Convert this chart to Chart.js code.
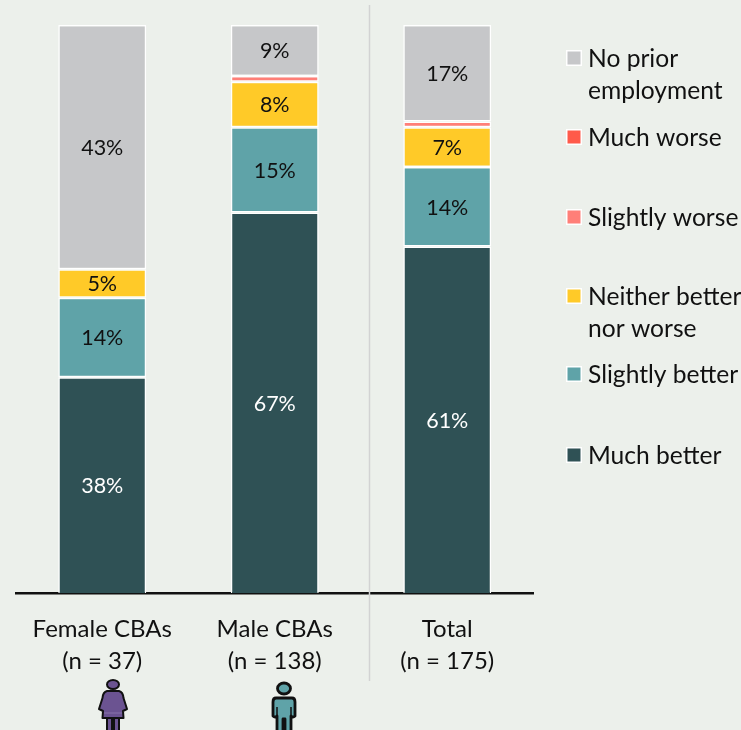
<!DOCTYPE html>
<html>
<head>
<meta charset="utf-8">
<style>
  html, body { margin: 0; padding: 0; background: #ecf0eb; }
  #wrap { width: 741px; height: 730px; position: relative; }
</style>
<script src="https://cdn.jsdelivr.net/npm/chart.js@4/dist/chart.umd.min.js"></script>
</head>
<body>
<div id="wrap"><canvas id="chart" width="741" height="730"></canvas></div>
<script>
const categories = [["Female CBAs", "(n = 37)"], ["Male CBAs", "(n = 138)"], ["Total", "(n = 175)"]];

const much_better = [38, 67, 61];
const slightly_better = [14, 15, 14];
const neither = [5, 8, 7];
const slightly_worse = [null, 1, 1];
const much_worse = [null, null, null];
const no_prior = [43, 9, 17];

const FONT = 'Lato, sans-serif';
const TICK_COLOR = "#111";

function makeSet(label, data, color, textColor, skip) {
  return {
    label: label,
    data: data,
    backgroundColor: color,
    borderColor: "#fff",
    borderWidth: 1.5,
    borderSkipped: skip || false,
    barPercentage: 0.51,
    categoryPercentage: 1,
    textColor: textColor
  };
}

// bottom of the stack first
const datasets = [
  makeSet("Much better", much_better, "#2f5155", "#fff", "bottom"),
  makeSet("Slightly better", slightly_better, "#5fa3a8", "#111"),
  makeSet("Neither better\nnor worse", neither, "#ffca28", "#111"),
  makeSet("Slightly worse", slightly_worse, "#ff7f78", "#111"),
  makeSet("Much worse", much_worse, "#ff5a4a", "#111"),
  makeSet("No prior\nemployment", no_prior, "#c6c7c9", "#111")
];

// percent labels, the thin 1% slices stay unlabelled
const barLabels = {
  id: "barLabels",
  afterDatasetsDraw(chart) {
    const ctx = chart.ctx;
    ctx.save();
    ctx.font = "21.5px " + FONT;
    ctx.textAlign = "center";
    ctx.textBaseline = "middle";
    chart.data.datasets.forEach((ds, i) => {
      chart.getDatasetMeta(i).data.forEach((bar, j) => {
        const v = ds.data[j];
        if (v == null || v < 2) return;
        ctx.fillStyle = ds.textColor;
        ctx.fillText(v + "%", bar.x, (bar.y + bar.base) / 2 + 1);
      });
    });
    ctx.restore();
  }
};

// divider between the two groups and Total
const divider = {
  id: "divider",
  afterDraw(chart) {
    const x = chart.scales.x;
    const px = (x.getPixelForTick(1) + x.getPixelForTick(2)) / 2 + 8.5;
    const ctx = chart.ctx;
    ctx.save();
    ctx.strokeStyle = "#d2d3d3";
    ctx.lineWidth = 1.5;
    ctx.beginPath();
    ctx.moveTo(px, 5);
    ctx.lineTo(px, 681);
    ctx.stroke();
    ctx.restore();
  }
};

// legend is not evenly spaced in the original so place it by hand
const sideLegend = {
  id: "sideLegend",
  afterDraw(chart) {
    const rows = [[5, 59], [4, 138], [3, 218], [2, 297], [1, 375], [0, 456]];
    const ctx = chart.ctx;
    ctx.save();
    ctx.font = "24.6px " + FONT;
    ctx.textBaseline = "middle";
    rows.forEach(r => {
      const ds = chart.data.datasets[r[0]];
      ctx.fillStyle = "#fff";
      ctx.fillRect(566, r[1] - 9, 16, 16);
      ctx.fillStyle = ds.backgroundColor;
      ctx.fillRect(567.5, r[1] - 7.5, 13, 13);
      ctx.fillStyle = TICK_COLOR;
      ds.label.split("\n").forEach((line, k) => {
        ctx.fillText(line, 588, r[1] + k * 32);
      });
    });
    ctx.restore();
  }
};

function drawFemale(ctx, cx, top) {
  ctx.save();
  ctx.translate(cx, top);
  ctx.fillStyle = "#6b5391";
  ctx.strokeStyle = "#111";
  ctx.lineWidth = 2;
  ctx.lineJoin = "round";
  ctx.beginPath();
  ctx.ellipse(0, 4.5, 6, 4.5, 0, 0, Math.PI * 2);
  ctx.fill();
  ctx.stroke();
  ctx.beginPath();
  ctx.rect(-6, 37, 5, 14);
  ctx.rect(1, 37, 5, 14);
  ctx.fill();
  ctx.stroke();
  ctx.beginPath();
  ctx.moveTo(-6, 11);
  ctx.lineTo(6, 11);
  ctx.quadraticCurveTo(10, 12, 10.5, 18);
  ctx.lineTo(14, 29);
  ctx.lineTo(10, 31);
  ctx.lineTo(10.5, 38);
  ctx.lineTo(-10.5, 38);
  ctx.lineTo(-10, 31);
  ctx.lineTo(-14, 29);
  ctx.lineTo(-10.5, 18);
  ctx.quadraticCurveTo(-10, 12, -6, 11);
  ctx.closePath();
  ctx.fill();
  ctx.stroke();
  ctx.strokeStyle = "#8a75ab";
  ctx.lineWidth = 1;
  ctx.beginPath();
  ctx.moveTo(-9, 33);
  ctx.lineTo(9, 33);
  ctx.stroke();
  ctx.restore();
}

function drawMale(ctx, cx, top) {
  ctx.save();
  ctx.translate(cx, top);
  ctx.fillStyle = "#5fa3a8";
  ctx.strokeStyle = "#111";
  ctx.lineWidth = 2.8;
  ctx.lineJoin = "round";
  ctx.beginPath();
  ctx.ellipse(0, 6.5, 6.5, 5.5, 0, 0, Math.PI * 2);
  ctx.fill();
  ctx.stroke();
  ctx.beginPath();
  ctx.moveTo(-8, 16);
  ctx.lineTo(8, 16);
  ctx.quadraticCurveTo(11, 16, 11, 20);
  ctx.lineTo(11, 34);
  ctx.quadraticCurveTo(9, 36, 7, 34);
  ctx.lineTo(7, 52);
  ctx.lineTo(1, 52);
  ctx.lineTo(1, 37);
  ctx.lineTo(-1, 37);
  ctx.lineTo(-1, 52);
  ctx.lineTo(-7, 52);
  ctx.lineTo(-7, 34);
  ctx.quadraticCurveTo(-9, 36, -11, 34);
  ctx.lineTo(-11, 20);
  ctx.quadraticCurveTo(-11, 16, -8, 16);
  ctx.closePath();
  ctx.fill();
  ctx.stroke();
  ctx.lineWidth = 1.5;
  ctx.beginPath();
  ctx.moveTo(-7, 25);
  ctx.lineTo(-7, 34);
  ctx.moveTo(7, 25);
  ctx.lineTo(7, 34);
  ctx.stroke();
  ctx.restore();
}

const figures = {
  id: "figures",
  afterDraw(chart) {
    drawFemale(chart.ctx, 113, 680);
    drawMale(chart.ctx, 284, 682);
  }
};

new Chart(document.getElementById("chart").getContext("2d"), {
  type: "bar",
  data: { labels: categories, datasets: datasets },
  options: {
    responsive: false,
    animation: false,
    layout: { padding: { left: 16, right: 207.5, top: 25, bottom: 33 } },
    plugins: { legend: { display: false }, tooltip: { enabled: false } },
    scales: {
      x: {
        stacked: true,
        grid: { display: false, drawTicks: false },
        border: { color: "#111", width: 2.5 },
        ticks: { color: TICK_COLOR, font: { family: FONT, size: 24, lineHeight: 1.333 }, padding: 20, maxRotation: 0, autoSkip: false }
      },
      y: {
        stacked: true,
        display: false,
        min: 0,
        max: 100
      }
    }
  },
  plugins: [barLabels, divider, sideLegend, figures]
});
</script>
</body>
</html>
